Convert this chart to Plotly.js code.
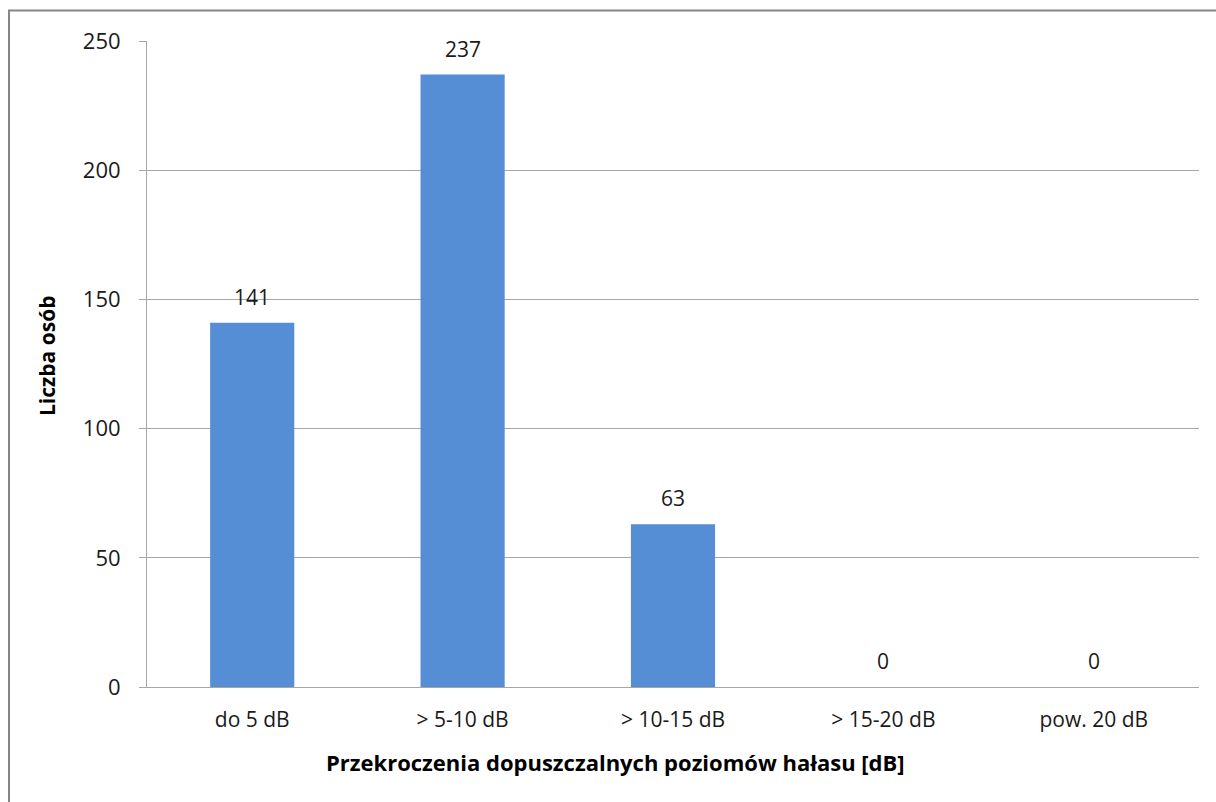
<!DOCTYPE html>
<html>
<head>
<meta charset="utf-8">
<script src="https://cdn.plot.ly/plotly-3.0.1.min.js"></script>
<style>html,body{margin:0;padding:0;background:#fff;}#chart{width:1216px;height:802px;}</style>
</head>
<body>
<div id="chart"></div>
<script>
const categories = ["do 5 dB", "> 5-10 dB", "> 10-15 dB", "> 15-20 dB", "pow. 20 dB"];
const values = [141, 237, 63, 0, 0];
const yTicks = [0, 50, 100, 150, 200, 250];
const xTitle = "Przekroczenia dopuszczalnych poziomów hałasu [dB]";
const yTitle = "Liczba osób";

const font = "Open Sans, Lato, sans-serif";

const trace = {
  type: "bar",
  x: categories,
  y: values,
  marker: {color: "#558ED5"},
  hoverinfo: "x+y"
};

const annotations = categories.map((c, i) => ({
  x: c, y: values[i], xref: "x", yref: "y",
  text: String(values[i]),
  showarrow: false, yanchor: "bottom", yshift: 10,
  font: {family: font, size: 21, color: "#1a1a1a"}
}));

annotations.push({
  xref: "paper", yref: "paper",
  x: (615 - 147) / 1052, y: (687 - 762) / 646,
  xanchor: "center", yanchor: "middle",
  text: xTitle, showarrow: false,
  font: {family: font, size: 22, color: "#000", weight: "bold"}
});
annotations.push({
  xref: "paper", yref: "paper",
  x: (47 - 147) / 1052, y: (687 - 356) / 646,
  xanchor: "center", yanchor: "middle",
  text: yTitle, showarrow: false, textangle: -90,
  font: {family: font, size: 21, color: "#000", weight: "bold"}
});

const layout = {
  width: 1216, height: 802,
  margin: {l: 147, r: 17, t: 41, b: 115},
  paper_bgcolor: "#fff", plot_bgcolor: "#fff",
  showlegend: false,
  bargap: 0.6,
  font: {family: font, size: 21, color: "#1a1a1a"},
  xaxis: {
    type: "category",
    showgrid: false,
    showline: true, linecolor: "#a6a6a6", linewidth: 1,
    ticks: "", ticklabelstandoff: 14,
    tickfont: {family: font, size: 21, color: "#1a1a1a"}
  },
  yaxis: {
    range: [0, 250],
    tickvals: yTicks,
    showgrid: true, gridcolor: "#a6a6a6", gridwidth: 1,
    showline: true, linecolor: "#a6a6a6", linewidth: 1,
    ticks: "outside", ticklen: 7, tickcolor: "#a6a6a6",
    ticklabelstandoff: 14,
    tickfont: {family: font, size: 22, color: "#1a1a1a"},
    zeroline: false
  },
  annotations: annotations,
  shapes: [{
    type: "rect", xref: "paper", yref: "paper",
    x0: (9 - 147) / 1052, x1: 1.2,
    y0: -0.3, y1: (687 - 10.5) / 646,
    line: {color: "#868686", width: 2}, fillcolor: "rgba(0,0,0,0)", layer: "below"
  }]
};

Plotly.newPlot("chart", [trace], layout, {displayModeBar: false, staticPlot: true});
</script>
</body>
</html>
